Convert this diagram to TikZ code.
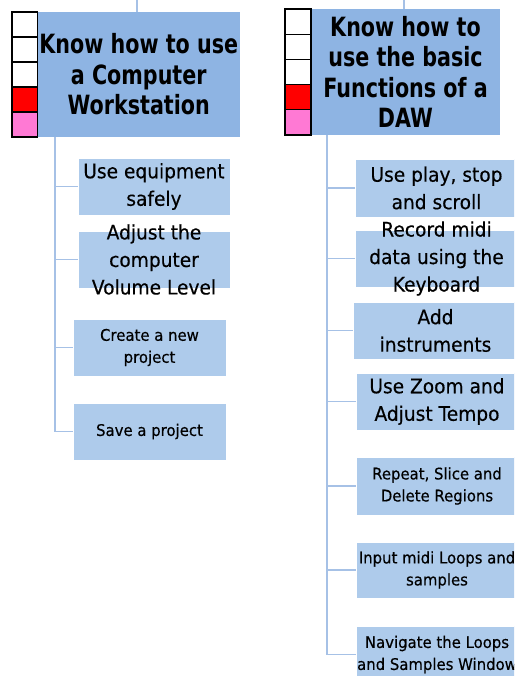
\documentclass[tikz,border=0pt]{standalone}
\usepackage{fontspec}
\newfontfamily\hdfont[FakeStretch=0.78]{DejaVu Sans}
\newfontfamily\bxfont[FakeStretch=0.93,FakeBold=0.4]{DejaVu Sans}
\definecolor{hdrc}{RGB}{142,180,227}
\definecolor{boxc}{RGB}{174,203,235}
\definecolor{linec}{RGB}{166,193,230}
\definecolor{pinkc}{RGB}{255,121,212}
\begin{document}
\begin{tikzpicture}[x=1pt,y=-1pt,
  conn/.style={draw=linec,line width=1.8pt},
  hdr/.style={fill=hdrc,inner sep=0pt,align=center,
    font=\hdfont\bfseries\fontsize{26.5}{30.5}\selectfont},
  sq/.style={draw=black,line width=1.1pt,inner sep=0pt},
  item/.style={fill=boxc,draw=white,line width=0.6pt,inner sep=0pt},
  lbl/.style={inner sep=0pt,align=center},
  big/.style={lbl,font=\bxfont\fontsize{20}{27.5}\selectfont},
  small/.style={lbl,font=\bxfont\fontsize{16}{22}\selectfont}]
\useasboundingbox (0,0) rectangle (514,676);
\clip (0,0) rectangle (514,676);

% first unit: header with progress squares
\node[hdr,minimum width=202.5pt,minimum height=125pt] (hL) at (138.75,74.5)
  {Know how to use\\a Computer\\Workstation};
\foreach \i/\c in {0/white,1/white,2/white,3/red,4/pinkc}
  \node[sq,fill=\c,minimum width=25.5pt,minimum height=25pt] (sL\i) at (24.75,24.5+25*\i) {};

% second unit: header with progress squares
\node[hdr,minimum width=189pt,minimum height=126pt] (hR) at (405.5,72)
  {Know how to\\use the basic\\Functions of a\\DAW};
\foreach \i/\c in {0/white,1/white,2/white,3/red,4/pinkc}
  \node[sq,fill=\c,minimum width=26pt,minimum height=25.2pt] (sR\i) at (298,21.6+25.2*\i) {};

% first unit: task boxes
\node[item,minimum width=152pt,minimum height=57pt] (l1) at (154,186.5) {};
\node[item,minimum width=152pt,minimum height=57pt] (l2) at (154,259.5) {};
\node[item,minimum width=153pt,minimum height=57pt] (l3) at (149.5,347.5) {};
\node[item,minimum width=153pt,minimum height=57pt] (l4) at (149.5,431.5) {};

% second unit: task boxes
\node[item,minimum width=163pt,minimum height=58pt] (r1) at (436.5,188) {};
\node[item,minimum width=163pt,minimum height=57pt] (r2) at (436.5,258.5) {};
\node[item,minimum width=165pt,minimum height=57pt] (r3) at (435.5,330.5) {};
\node[item,minimum width=162pt,minimum height=57pt] (r4) at (437,401.5) {};
\node[item,minimum width=162pt,minimum height=58pt] (r5) at (437,486) {};
\node[item,minimum width=162pt,minimum height=56pt] (r6) at (437,570) {};
\node[item,minimum width=162pt,minimum height=57pt] (r7) at (437,654.5) {};

% task texts (they may run over their boxes)
\node[big] (l1t) at (l1) {Use equipment\\safely};
\node[big] (l2t) at (l2) {Adjust the\\computer\\Volume Level};
\node[small] (l3t) at (l3) {Create a new\\project};
\node[small] (l4t) at (l4) {Save a project};
\node[big] (r1t) at (r1) {Use play, stop\\and scroll};
\node[big] (r2t) at (r2) {Record midi\\data using the\\Keyboard};
\node[big] (r3t) at (r3) {Add\\instruments};
\node[big] (r4t) at (r4) {Use Zoom and\\Adjust Tempo};
\node[small] (r5t) at (r5) {Repeat, Slice and\\Delete Regions};
\node[small] (r6t) at (r6) {Input midi Loops and\\samples};
\node[small] (r7t) at (r7) {Navigate the Loops\\and Samples Window};

% connectors
\coordinate (tL) at (137,0);
\coordinate (tR) at (404,0);
\coordinate (kL) at (55,0);
\coordinate (kR) at (327,0);
\draw[conn] (tL) -- (tL |- hL.north);
\draw[conn] (tR) -- (tR |- hR.north);
\draw[conn] (kL |- hL.south) |- (l4.west);
\foreach \n in {l1,l2,l3}
  \draw[conn] (kL |- \n.west) -- (\n.west);
\draw[conn] (kR |- hR.south) |- (r7.west);
\foreach \n in {r1,r2,r3,r4,r5,r6}
  \draw[conn] (kR |- \n.west) -- (\n.west);
\end{tikzpicture}
\end{document}
